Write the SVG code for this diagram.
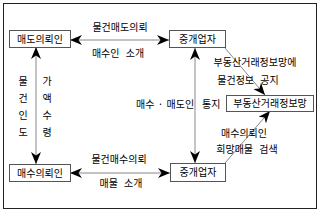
<svg xmlns="http://www.w3.org/2000/svg" width="320" height="212" viewBox="0 0 320 212">
<style>
text{font-family:"Noto Sans CJK KR","Noto Sans",sans-serif;font-size:10px;fill:#000;text-anchor:middle;word-spacing:4px}
.box{fill:#fff;stroke:#555;stroke-width:1}
.ln{stroke:#888;stroke-width:1;fill:none}
</style>
<defs>
<marker id="ah" viewBox="0 0 12 10" refX="12" refY="5" markerWidth="12" markerHeight="10" markerUnits="userSpaceOnUse" orient="auto-start-reverse">
<path d="M0,0 L12,5 L0,10 L3.5,5 z" fill="#000"/>
</marker>
</defs>
<rect x="3.5" y="3.5" width="313" height="205" fill="#fff" stroke="#222" stroke-width="1"/>
<g id="connectors">
<line class="ln" x1="70" y1="40" x2="169" y2="40" marker-start="url(#ah)" marker-end="url(#ah)"/>
<line class="ln" x1="70" y1="173" x2="170" y2="173" marker-start="url(#ah)" marker-end="url(#ah)"/>
<line class="ln" x1="36" y1="47" x2="36" y2="164" marker-start="url(#ah)" marker-end="url(#ah)"/>
<line class="ln" x1="195" y1="48" x2="195" y2="163" marker-start="url(#ah)" marker-end="url(#ah)"/>
<line class="ln" x1="225" y1="48" x2="265" y2="95" marker-end="url(#ah)"/>
<line class="ln" x1="225" y1="163" x2="270" y2="111" marker-end="url(#ah)"/>
<text x="120" y="31">물건매도의뢰</text>
<text x="118" y="57">매수인 소개</text>
<text x="119" y="163">물건매수의뢰</text>
<text x="121" y="186.5">매물 소개</text>
<text x="23" y="84.5">물</text>
<text x="23" y="101.5">건</text>
<text x="23" y="118.5">인</text>
<text x="23" y="135.5">도</text>
<text x="47" y="84.5">가</text>
<text x="47" y="101.5">액</text>
<text x="47" y="118.5">수</text>
<text x="47" y="135.5">령</text>
<text x="136" y="107.5" style="text-anchor:start;word-spacing:1px">매수 · 매도인 <tspan x="202">통지</tspan></text>
<text x="255" y="65.5">부동산거래정보망에</text>
<text x="248" y="83.5">물건정보 공지</text>
<text x="244" y="137">매수의뢰인</text>
<text x="247" y="153">희망매물 검색</text>
</g>
<g id="seller"><rect class="box" x="9.5" y="30.5" width="61" height="17"/><text x="40" y="42.5">매도의뢰인</text></g>
<g id="broker1"><rect class="box" x="169.5" y="30.5" width="56" height="17"/><text x="197.5" y="42.5">중개업자</text></g>
<g id="network"><rect class="box" x="226.5" y="95.5" width="87" height="16"/><text x="270" y="107">부동산거래정보망</text></g>
<g id="buyer"><rect class="box" x="9.5" y="164.5" width="61" height="17"/><text x="40" y="176.5">매수의뢰인</text></g>
<g id="broker2"><rect class="box" x="170.5" y="163.5" width="55" height="18"/><text x="198" y="176">중개업자</text></g>
</svg>
